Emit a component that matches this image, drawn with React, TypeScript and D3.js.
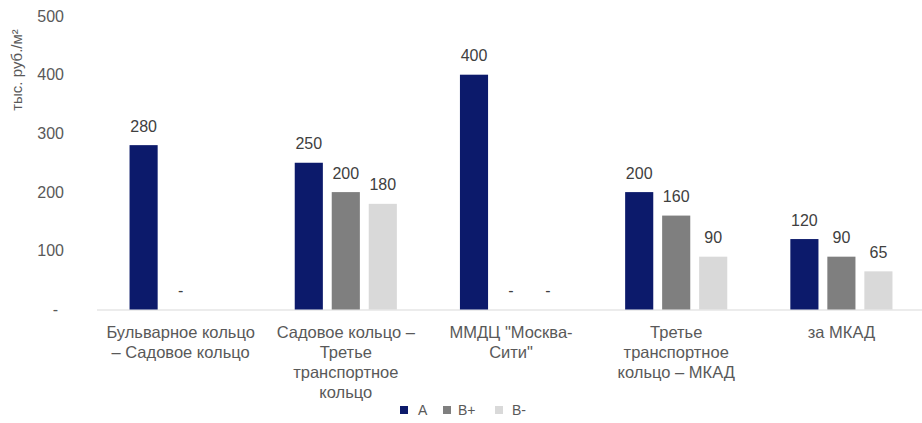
import React, { useEffect } from "react";
import * as d3 from "d3";

// Price levels by zone, thousand RUB per m²
const categories = [
  "Бульварное кольцо\n– Садовое кольцо",
  "Садовое кольцо –\nТретье\nтранспортное\nкольцо",
  "ММДЦ \"Москва-\nСити\"",
  "Третье\nтранспортное\nкольцо – МКАД",
  "за МКАД",
];
const series = ["A", "B+", "B-"];
const valuesA = [280, 250, 400, 200, 120];
const valuesBPlus = [0, 200, 0, 160, 90];
const valuesBMinus: (number | null)[] = [null, 180, 0, 90, 65];
const yTicks = [0, 100, 200, 300, 400, 500];
const colors = ["#0c1a6b", "#7f7f7f", "#d9d9d9"];
const yTitle = "тыс. руб./м²";

const W = 922;
const H = 423;

export default function App() {
  useEffect(() => {
    document.body.style.margin = "0";
  }, []);

  const y = d3.scaleLinear().domain([0, 500]).range([309.5, 16]);
  const x0 = d3.scaleBand<number>().domain(d3.range(categories.length)).range([98, 924]);
  const x1 = d3
    .scaleBand<string>()
    .domain(series)
    .range([-55.5, 55.5])
    .paddingInner(0.24)
    .paddingOuter(0.12);

  const rows = [valuesA, valuesBPlus, valuesBMinus];
  const font = "'Liberation Sans', Arial, sans-serif";

  return (
    <svg width={W} height={H} style={{ display: "block", background: "#fff" }} fontFamily={font}>
      {/* y-axis title */}
      <text
        transform={`translate(22,${70}) rotate(-90)`}
        textAnchor="middle"
        fontSize={15}
        fill="#595959"
      >
        {yTitle}
      </text>

      {/* y tick labels */}
      {yTicks.map((t) => (
        <text
          key={t}
          x={t === 0 ? 58 : 64}
          y={y(t) + 5.5}
          textAnchor="end"
          fontSize={16}
          fill="#595959"
        >
          {t === 0 ? "-" : String(t)}
        </text>
      ))}

      {/* baseline */}
      <line x1={97} x2={922} y1={y(0) + 0.5} y2={y(0) + 0.5} stroke="#d9d9d9" strokeWidth={1} />

      {/* bars and value labels */}
      {categories.map((c, i) => {
        const cx = (x0(i) as number) + x0.bandwidth() / 2;
        return (
          <g key={c} transform={`translate(${cx},0)`}>
            {series.map((s, k) => {
              const v = rows[k][i];
              if (v === null || v === undefined) return null;
              const bx = x1(s) as number;
              const top = y(v);
              return (
                <g key={s}>
                  {v > 0 && (
                    <rect x={bx} y={top} width={x1.bandwidth()} height={y(0) - top} fill={colors[k]} />
                  )}
                  <text
                    x={bx + x1.bandwidth() / 2}
                    y={top - 13.5}
                    textAnchor="middle"
                    fontSize={16}
                    fill="#404040"
                  >
                    {v === 0 ? "-" : String(v)}
                  </text>
                </g>
              );
            })}
            {c.split("\n").map((line, li) => (
              <text
                key={li}
                x={0}
                y={338 + li * 20}
                textAnchor="middle"
                fontSize={16.5}
                fill="#595959"
              >
                {line}
              </text>
            ))}
          </g>
        );
      })}

      {/* legend */}
      {series.map((s, k) => {
        const lx = [400, 443, 495][k];
        return (
          <g key={s} transform={`translate(${lx},0)`}>
            <rect x={0} y={406} width={8} height={8} fill={colors[k]} />
            <text x={k === 0 ? 18 : k === 1 ? 15 : 17} y={415} fontSize={14} fill="#595959">
              {s}
            </text>
          </g>
        );
      })}
    </svg>
  );
}
